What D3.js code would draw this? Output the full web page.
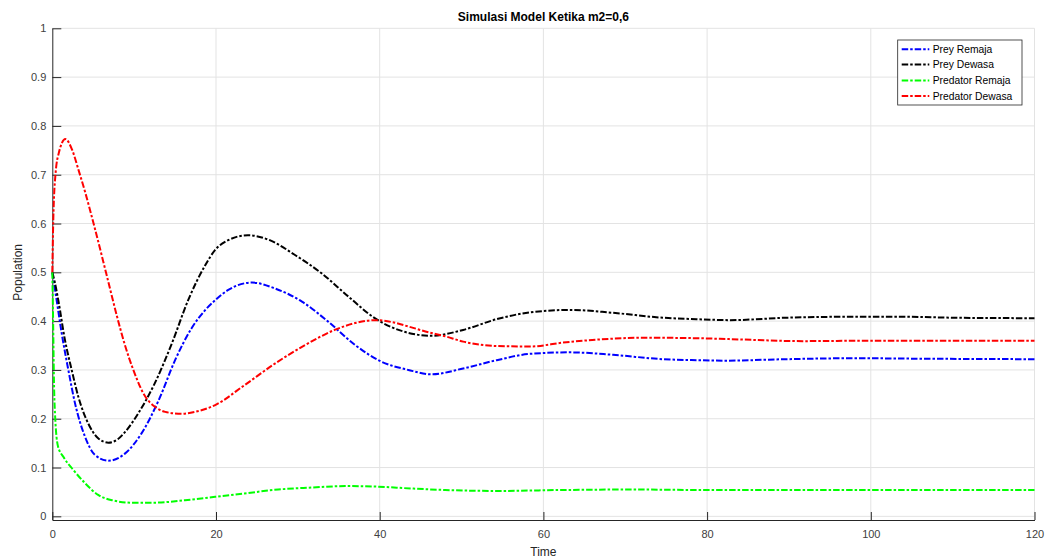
<!DOCTYPE html>
<html>
<head>
<meta charset="utf-8">
<script src="https://cdn.jsdelivr.net/npm/d3@7"></script>
<style>
  html, body { margin: 0; padding: 0; background: #fff; }
  #chart { width: 1047px; height: 559px; }
  text { font-family: "Liberation Sans", Arial, Helvetica, sans-serif; }
</style>
</head>
<body>
<div id="chart"></div>
<script>
// title and labels
const chartTitle = 'Simulasi Model Ketika m2=0,6';
const xLabel = 'Time';
const yLabel = 'Population';
const xTicks = [0, 20, 40, 60, 80, 100, 120];
const yTicks = [0, 0.1, 0.2, 0.3, 0.4, 0.5, 0.6, 0.7, 0.8, 0.9, 1];

// Prey Remaja
const preyRemajaT = [0, 0.53, 1.15, 1.96, 2.77, 4.0, 5.2, 6.85, 8.9, 10.9, 13.0, 15.0, 17.0, 18.7, 19.9, 21.5, 24.4, 27.2, 30.5, 33.7, 37.0, 40.2, 43.5, 46.3, 50.2, 54.3, 58.4, 63.3, 68.5, 74.6, 78.7, 82, 89.7, 97.9, 106, 120];
const preyRemajaV = [0.50, 0.443, 0.375, 0.30, 0.232, 0.163, 0.126, 0.114, 0.129, 0.170, 0.238, 0.32, 0.385, 0.423, 0.443, 0.464, 0.479, 0.467, 0.44, 0.399, 0.351, 0.317, 0.30, 0.291, 0.303, 0.32, 0.333, 0.336, 0.331, 0.322, 0.320, 0.319, 0.322, 0.324, 0.323, 0.322];

// Prey Dewasa
const preyDewasaT = [0, 0.3, 0.73, 1.55, 2.37, 3.18, 4.4, 5.6, 6.85, 8.0, 8.9, 10.5, 12.5, 14.6, 16.6, 18.7, 19.9, 21.5, 23.9, 26.4, 29.7, 32.9, 36.2, 39.4, 43.5, 46.3, 50.2, 54.3, 58.4, 63.3, 68.5, 74.6, 78.7, 82.8, 89.7, 97.9, 104, 110, 120];
const preyDewasaV = [0.50, 0.48, 0.443, 0.361, 0.30, 0.245, 0.19, 0.16, 0.151, 0.158, 0.173, 0.211, 0.272, 0.354, 0.443, 0.515, 0.546, 0.566, 0.576, 0.567, 0.535, 0.498, 0.45, 0.406, 0.376, 0.370, 0.382, 0.404, 0.418, 0.423, 0.417, 0.407, 0.404, 0.402, 0.407, 0.409, 0.409, 0.407, 0.406];

// Predator Remaja
const predRemajaT = [0, 0.1, 0.2, 0.33, 0.7, 1.35, 2.57, 4.0, 5.6, 7.3, 9.7, 12.5, 16.2, 19.9, 23.5, 27.6, 31.7, 35.8, 39.4, 43.9, 48, 54.3, 62.4, 70.6, 80, 100, 120];
const predRemajaV = [0.50, 0.40, 0.28, 0.21, 0.143, 0.122, 0.095, 0.068, 0.044, 0.033, 0.028, 0.028, 0.033, 0.040, 0.047, 0.055, 0.059, 0.062, 0.061, 0.057, 0.054, 0.052, 0.054, 0.055, 0.054, 0.054, 0.054];

// Predator Dewasa
const predDewasaT = [0, 0.12, 0.4, 0.8, 1.6, 2.4, 3.2, 4.0, 5.2, 6.6, 7.9, 8.8, 9.9, 11.3, 12.5, 13.8, 15.8, 17.4, 19.9, 23.5, 27.2, 30.9, 34.5, 37, 39.4, 41.5, 43.5, 46, 48, 50.2, 54.3, 58.4, 62.4, 66.5, 72.6, 78.7, 83, 91.7, 100, 110, 120];
const predDewasaV = [0.50, 0.607, 0.703, 0.745, 0.773, 0.752, 0.71, 0.665, 0.59, 0.497, 0.41, 0.355, 0.30, 0.247, 0.225, 0.214, 0.21, 0.214, 0.228, 0.269, 0.313, 0.351, 0.382, 0.396, 0.402, 0.398, 0.389, 0.377, 0.369, 0.358, 0.349, 0.348, 0.356, 0.362, 0.366, 0.365, 0.363, 0.359, 0.360, 0.360, 0.360];

const seriesNames = ['Prey Remaja', 'Prey Dewasa', 'Predator Remaja', 'Predator Dewasa'];
const seriesColors = ['#0000ff', '#000000', '#00ff00', '#ff0000'];

const series = [
  { name: seriesNames[0], color: seriesColors[0], t: preyRemajaT, v: preyRemajaV },
  { name: seriesNames[1], color: seriesColors[1], t: preyDewasaT, v: preyDewasaV },
  { name: seriesNames[2], color: seriesColors[2], t: predRemajaT, v: predRemajaV },
  { name: seriesNames[3], color: seriesColors[3], t: predDewasaT, v: predDewasaV }
];

const width = 1047, height = 559;
const margin = { top: 28.3, right: 12.5, bottom: 39, left: 52.3 };
const innerW = width - margin.left - margin.right;
const innerH = height - margin.top - margin.bottom;
const axisColor = '#262626';
const gridColor = '#e3e3e3';
const dash = '6.5,2,2.5,2';

const svg = d3.select('#chart').append('svg')
  .attr('width', width)
  .attr('height', height)
  .attr('viewBox', `0 0 ${width} ${height}`)
  .style('background', '#fff');

const mg = svg.append('g')
  .attr('transform', `translate(${margin.left},${margin.top})`);

const x = d3.scaleLinear().domain([0, 120]).range([0, innerW]);
const y = d3.scaleLinear().domain([-0.0075, 1]).range([innerH, 0]);

// grid
const grid = mg.append('g').attr('class', 'grid');
grid.selectAll('line.gx')
  .data(xTicks.slice(1))
  .join('line')
  .attr('class', 'gx')
  .attr('x1', d => x(d)).attr('x2', d => x(d))
  .attr('y1', 0).attr('y2', innerH)
  .attr('stroke', gridColor).attr('stroke-width', 1);
grid.selectAll('line.gy')
  .data(yTicks)
  .join('line')
  .attr('class', 'gy')
  .attr('x1', 0).attr('x2', innerW)
  .attr('y1', d => y(d)).attr('y2', d => y(d))
  .attr('stroke', gridColor).attr('stroke-width', 1);

// axes
const xAxis = mg.append('g')
  .attr('transform', `translate(0,${innerH})`)
  .call(d3.axisBottom(x).tickValues(xTicks).tickFormat(d3.format('d'))
    .tickSizeInner(-8).tickSizeOuter(0).tickPadding(10));
const yAxis = mg.append('g')
  .call(d3.axisLeft(y).tickValues(yTicks).tickFormat(d => d === 0 || d === 1 ? String(d) : d3.format('.1f')(d))
    .tickSizeInner(-9).tickSizeOuter(0).tickPadding(6));

[xAxis, yAxis].forEach(a => {
  a.select('.domain').attr('stroke', axisColor).attr('stroke-width', 1);
  a.selectAll('.tick line').attr('stroke', axisColor).attr('stroke-width', 1);
  a.selectAll('.tick text')
    .attr('fill', '#404040')
    .style('font-size', '11px')
    .style('font-family', '"Liberation Sans", Arial, sans-serif');
});

// lines
const line = d3.line()
  .x(d => x(d[0]))
  .y(d => y(d[1]))
  .curve(d3.curveMonotoneX);

mg.append('g').attr('class', 'lines')
  .selectAll('path')
  .data(series)
  .join('path')
  .attr('d', s => line(s.t.map((t, i) => [t, s.v[i]])))
  .attr('fill', 'none')
  .attr('stroke', s => s.color)
  .attr('stroke-width', 2)
  .attr('stroke-dasharray', dash);

// title and axis labels
svg.append('text')
  .attr('x', margin.left + innerW / 2)
  .attr('y', 20.5)
  .attr('text-anchor', 'middle')
  .style('font-size', '12px')
  .style('font-weight', 'bold')
  .attr('fill', '#000')
  .text(chartTitle);

svg.append('text')
  .attr('x', margin.left + innerW / 2)
  .attr('y', 555.5)
  .attr('text-anchor', 'middle')
  .style('font-size', '12px')
  .attr('fill', '#262626')
  .text(xLabel);

svg.append('text')
  .attr('transform', `translate(22,${margin.top + y(0.5)}) rotate(-90)`)
  .attr('text-anchor', 'middle')
  .style('font-size', '12px')
  .attr('fill', '#262626')
  .text(yLabel);

// legend
const legend = svg.append('g').attr('transform', 'translate(897.7,40)');
legend.append('rect')
  .attr('width', 124.3).attr('height', 65)
  .attr('fill', '#fff')
  .attr('stroke', '#262626').attr('stroke-width', 0.8);
const rowY = [9.3, 24.5, 40.5, 56];
const items = legend.selectAll('g.item')
  .data(series)
  .join('g')
  .attr('class', 'item')
  .attr('transform', (d, i) => `translate(0,${rowY[i]})`);
items.append('line')
  .attr('x1', 4).attr('x2', 31.6)
  .attr('stroke', d => d.color)
  .attr('stroke-width', 2)
  .attr('stroke-dasharray', dash);
items.append('text')
  .attr('x', 35)
  .attr('dy', '0.35em')
  .style('font-size', '10.3px')
  .attr('fill', '#000')
  .text(d => d.name);
</script>
</body>
</html>
